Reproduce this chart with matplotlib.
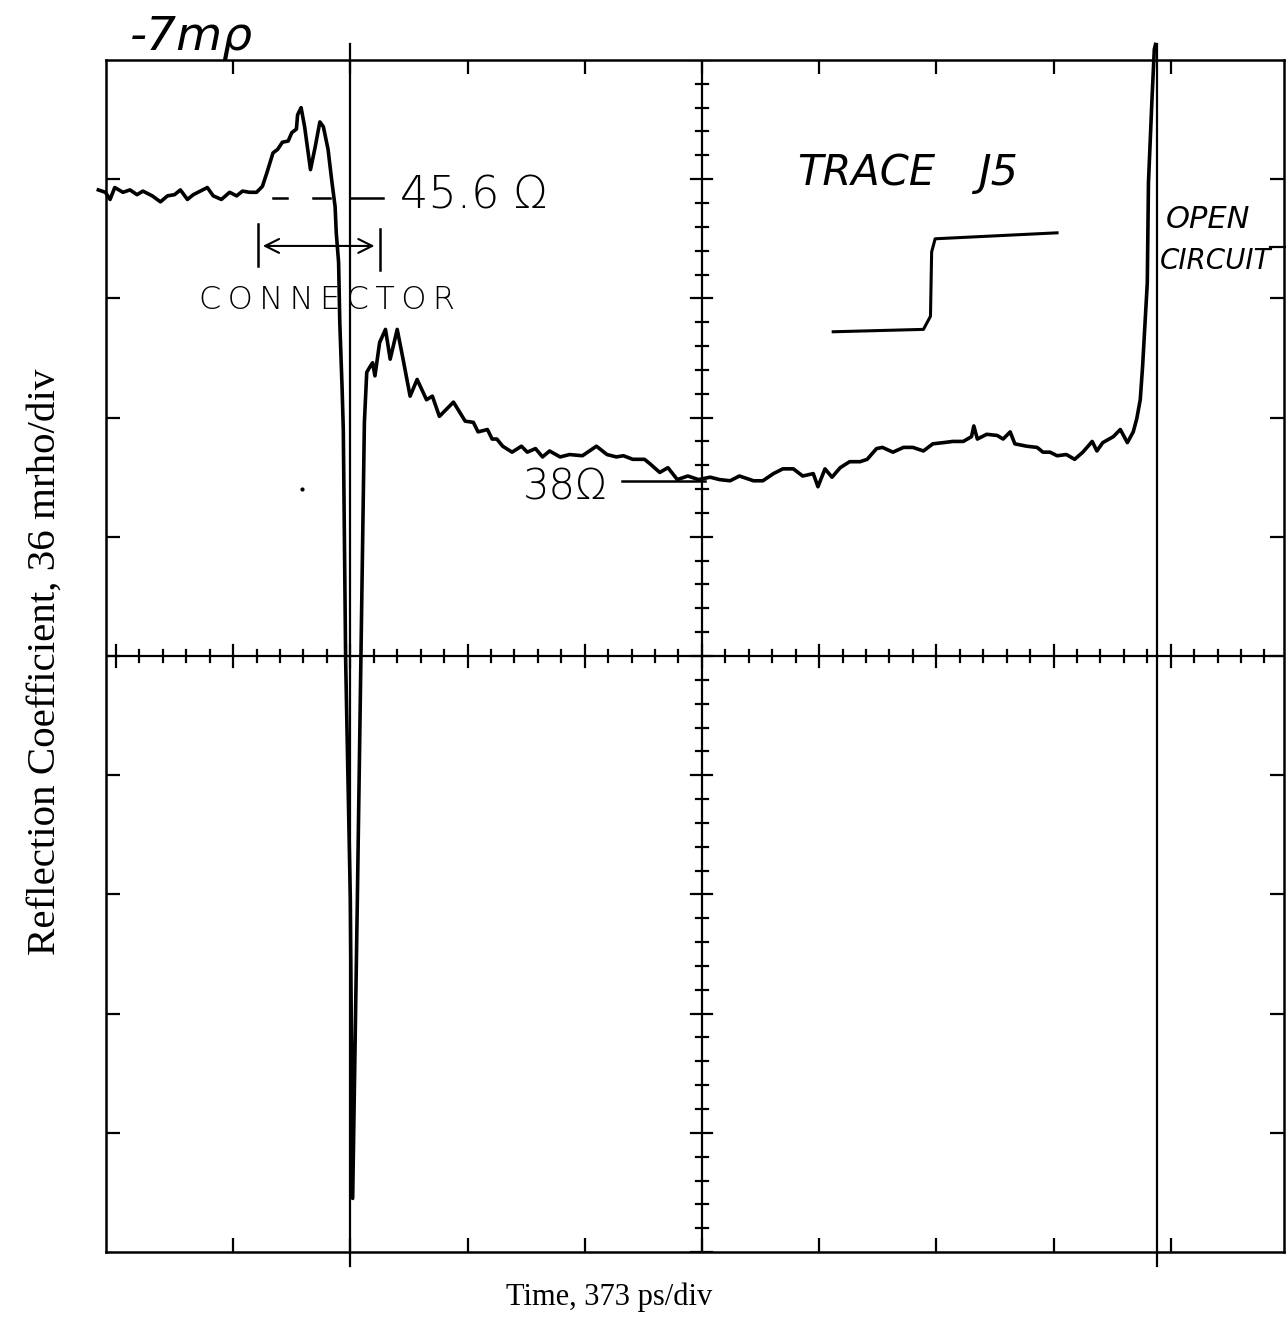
import matplotlib
matplotlib.use("Agg")
import matplotlib.pyplot as plt
import numpy as np

# ── data (screen divisions: time = 373 ps/div, reflection = 36 mrho/div) ────
t_div = [
    -0.15, -0.09, -0.05, -0.01, 0.06, 0.12, 0.18, 0.23, 0.31, 0.38,
    0.44, 0.50, 0.55, 0.61, 0.66, 0.72, 0.78, 0.83, 0.90, 0.97,
    1.03, 1.08, 1.14, 1.20, 1.25, 1.29, 1.34, 1.38, 1.42, 1.47,
    1.50, 1.54, 1.55, 1.58, 1.61, 1.66, 1.70, 1.74, 1.77, 1.81,
    1.84, 1.87, 1.88, 1.90, 1.91, 1.93, 1.94, 1.96, 2.00, 2.02,
    2.06, 2.09, 2.12, 2.14, 2.17, 2.19, 2.21, 2.25, 2.30, 2.34,
    2.40, 2.45, 2.51, 2.57, 2.65, 2.70, 2.76, 2.88, 2.98, 3.05,
    3.09, 3.17, 3.21, 3.25, 3.30, 3.38, 3.46, 3.51, 3.58, 3.64,
    3.70, 3.79, 3.87, 3.98, 4.10, 4.19, 4.27, 4.33, 4.41, 4.51,
    4.56, 4.64, 4.71, 4.79, 4.88, 4.97, 5.07, 5.15, 5.24, 5.32,
    5.44, 5.52, 5.61, 5.69, 5.78, 5.86, 5.95, 5.99, 6.05, 6.11,
    6.18, 6.26, 6.35, 6.41, 6.49, 6.54, 6.63, 6.72, 6.80, 6.89,
    6.97, 7.06, 7.14, 7.23, 7.30, 7.32, 7.35, 7.43, 7.52, 7.57,
    7.63, 7.67, 7.77, 7.86, 7.91, 7.97, 8.03, 8.11, 8.18, 8.25,
    8.33, 8.37, 8.42, 8.51, 8.57, 8.63, 8.68, 8.71, 8.74, 8.76,
    8.80, 8.81, 8.84, 8.86, 8.87,
]
rho_div = [
    3.91, 3.89, 3.83, 3.93, 3.89, 3.91, 3.87, 3.90, 3.86, 3.81,
    3.86, 3.87, 3.91, 3.83, 3.87, 3.90, 3.93, 3.86, 3.83, 3.89,
    3.86, 3.90, 3.89, 3.89, 3.94, 4.06, 4.22, 4.25, 4.31, 4.32,
    4.39, 4.42, 4.54, 4.60, 4.44, 4.08, 4.27, 4.48, 4.44, 4.25,
    4.00, 3.77, 3.55, 3.30, 2.80, 2.24, 1.90, -0.03, -2.04, -4.55,
    -2.04, -0.03, 1.96, 2.38, 2.43, 2.46, 2.35, 2.63, 2.74, 2.49,
    2.74, 2.49, 2.18, 2.32, 2.15, 2.18, 2.01, 2.13, 1.97, 1.96,
    1.88, 1.90, 1.82, 1.82, 1.76, 1.71, 1.76, 1.71, 1.74, 1.67,
    1.72, 1.67, 1.69, 1.68, 1.76, 1.69, 1.67, 1.68, 1.65, 1.65,
    1.61, 1.54, 1.58, 1.48, 1.51, 1.48, 1.50, 1.48, 1.47, 1.51,
    1.47, 1.47, 1.53, 1.57, 1.57, 1.51, 1.53, 1.42, 1.57, 1.50,
    1.58, 1.63, 1.63, 1.65, 1.74, 1.75, 1.71, 1.75, 1.75, 1.72,
    1.78, 1.79, 1.80, 1.80, 1.84, 1.93, 1.82, 1.86, 1.85, 1.82,
    1.88, 1.78, 1.76, 1.75, 1.71, 1.71, 1.68, 1.69, 1.65, 1.71,
    1.80, 1.72, 1.79, 1.84, 1.90, 1.79, 1.88, 1.99, 2.15, 2.43,
    3.13, 3.97, 4.67, 5.09, 5.13,
]

# hand-drawn inset: step sketch next to "TRACE J5"
step_t = [6.12, 6.89, 6.95, 6.96, 6.99, 8.03]
step_rho = [2.72, 2.74, 2.85, 3.39, 3.50, 3.55]

# marker lines drawn on the plot (connector start, open circuit)
marker_t = [2.00, 8.88]

# ── canvas ──────────────────────────────────────────────────────────────────
fig = plt.figure(figsize=(12.86, 13.21), dpi=100)
ax = fig.add_axes([0.0824, 0.0522, 0.916, 0.9024])
ax.set_xlim(-0.085, 9.966)
ax.set_ylim(-5, 5)

for s in ax.spines.values():
    s.set_linewidth(1.8)
ax.set_xticks(range(1, 10))
ax.set_yticks(range(-4, 5))
ax.tick_params(direction="in", length=10, width=1.6, top=True, right=True,
               labelbottom=False, labelleft=False)

# graticule centre lines with minor ticks
ax.axhline(0, color="black", lw=1.6)
ax.axvline(5, color="black", lw=1.6)
for v in np.arange(0, 10.01, 0.2):
    h = 0.09 if abs(v - round(v)) < 1e-6 else 0.05
    ax.plot([v, v], [-h, h], color="black", lw=1.6)
for v in np.arange(-5, 5.01, 0.2):
    h = 0.09 if abs(v - round(v)) < 1e-6 else 0.05
    ax.plot([5 - h, 5 + h], [v, v], color="black", lw=1.6)

# ── trace ───────────────────────────────────────────────────────────────────
ax.plot(t_div, rho_div, color="black", lw=2.6, clip_on=False,
        solid_joinstyle="round", zorder=5)

for mt in marker_t:
    ax.plot([mt, mt], [-5.12, 5.13], color="black", lw=1.6, clip_on=False)

# ── hand annotations ────────────────────────────────────────────────────────
hand = dict(family="DejaVu Sans", color="black", fontweight="light")
sp = "\u2009"

ax.text(0.12, 5.19, "-7mρ", fontsize=34, ha="left", va="center",
        style="italic", **hand)

for a, b in [(1.34, 1.46), (1.68, 1.83), (2.00, 2.28)]:
    ax.plot([a, b], [3.84, 3.84], color="black", lw=1.8)
ax.text(2.42, 3.86, "45.6 Ω", fontsize=32, ha="left", va="center", **hand)

ax.plot([1.21, 1.21], [3.27, 3.62], color="black", lw=1.8)
ax.plot([2.25, 2.25], [3.24, 3.58], color="black", lw=1.8)
ax.annotate("", xy=(1.23, 3.44), xytext=(2.23, 3.44),
            arrowprops=dict(arrowstyle="<->", color="black", lw=1.5,
                            mutation_scale=25))
ax.text(1.80, 2.99, sp.join("CONNECTOR"), fontsize=23, ha="center",
        va="center", **hand)

ax.text(5.81, 4.05, "TRACE", fontsize=30, ha="left", va="center",
        style="italic", **hand)
ax.text(7.36, 4.05, "J5", fontsize=31, ha="left", va="center",
        style="italic", **hand)
ax.plot(step_t, step_rho, color="black", lw=2.2)

ax.text(8.96, 3.66, "OPEN", fontsize=22, ha="left", va="center",
        style="italic", **hand)
ax.text(8.91, 3.31, "CIRCUIT", fontsize=20, ha="left", va="center",
        style="italic", **hand)
ax.plot([9.85, 9.98], [3.43, 3.43], color="black", lw=1.6, clip_on=False)

ax.text(3.47, 1.42, "38Ω", fontsize=30, ha="left", va="center", **hand)
ax.plot([4.32, 5.03], [1.47, 1.47], color="black", lw=1.8)
ax.plot([1.59], [1.40], "o", color="black", ms=2)

# ── axis titles ─────────────────────────────────────────────────────────────
fig.text(0.474, 0.018, "Time, 373 ps/div", fontsize=22,
         family="Liberation Serif", ha="center", va="center")
fig.text(0.035, 0.499, "Reflection Coefficient, 36 mrho/div", fontsize=29.5,
         family="Liberation Serif", ha="center", va="center", rotation=90)

fig.savefig("out.png", dpi=100, facecolor="white")
